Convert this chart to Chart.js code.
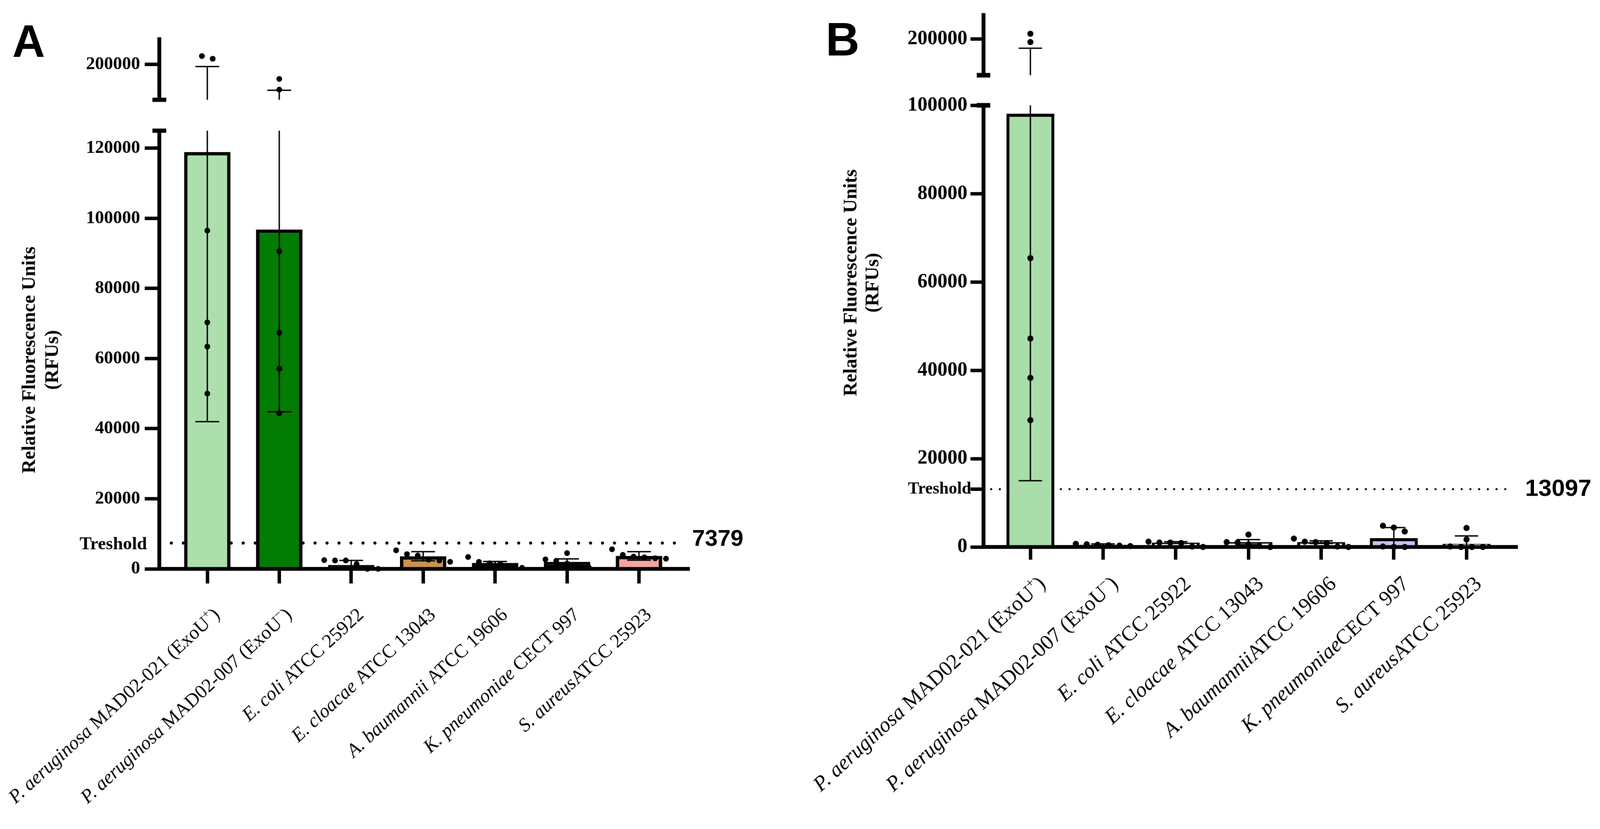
<!DOCTYPE html>
<html>
<head>
<meta charset="utf-8">
<title>Relative Fluorescence Units</title>
<script src="https://cdn.jsdelivr.net/npm/chart.js@4.4.1/dist/chart.umd.min.js"></script>
<style>
  html, body { margin: 0; padding: 0; background: #fff; overflow: hidden; }
  #stage { position: absolute; left: 0; top: 0; width: 4168px; height: 2121px; transform-origin: 0 0; background: #fff; }
  canvas { position: absolute; }
  .letter { position: absolute; font-family: "Liberation Sans", Arial, sans-serif; font-weight: bold; line-height: 1; color: #000; }
</style>
</head>
<body>
<div id="stage">
  <div class="letter" style="left:32px; top:49px; font-size:118px;">A</div>
  <div class="letter" style="left:2151px; top:41px; font-size:122px;">B</div>
  <canvas id="aHigh" width="2000" height="300" style="left:0; top:0;"></canvas>
  <canvas id="aLow" width="2000" height="1821" style="left:0; top:300px;"></canvas>
  <canvas id="bHigh" width="2068" height="235" style="left:2100px; top:0;"></canvas>
  <canvas id="bLow" width="2068" height="1886" style="left:2100px; top:235px;"></canvas>
</div>
<script>
const SERIF = '"Liberation Serif", "Times New Roman", serif';
const SANS = '"Liberation Sans", Arial, sans-serif';

// Fit the 4168x2121 layout into whatever viewport we get
const stage = document.getElementById("stage");
const fit = Math.min(window.innerWidth / 4168, window.innerHeight / 2121);
stage.style.transform = `scale(${fit})`;

// Panel A data
const labelsA = [
    "<i>P. aeruginosa</i> MAD02-021 (ExoU<sup>+</sup>)",
    "<i>P. aeruginosa</i> MAD02-007 (ExoU<sup>−</sup>)",
    "<i>E. coli</i> ATCC 25922",
    "<i>E. cloacae</i> ATCC 13043",
    "<i>A. baumannii</i> ATCC 19606",
    "<i>K. pneumoniae</i> CECT 997",
    "<i>S. aureus</i>ATCC 25923"
];
const meansA = [118900, 96800, 1100, 3600, 1700, 2000, 3700];
const sdA = [76900, 52000, 1300, 1300, 400, 850, 1200];
const pointsA = [
    [216600, 211300, 96500, 70300, 63400, 50000],
    [171300, 150200, 90600, 67400, 57100, 44400],
    [2500, 2400, 2400, 1400, 0, 0],
    [5300, 4200, 3800, 2600, 2400, 2000],
    [3400, 2000, 1600, 1400, 500, 300],
    [4500, 2700, 2300, 1500, 800, 500],
    [5600, 4000, 3500, 3300, 3000, 2900]
];
const thresholdA = 7379;
const lowTicksA = [0, 20000, 40000, 60000, 80000, 100000, 120000];
const highTicksA = [200000];
const colorsA = ["#acdfac", "#027c02", "#000000", "#c9934f", "#000000", "#000000", "#f5a3a3"];

// Panel B data
const labelsB = [
    "<i>P. aeruginosa</i> MAD02-021 (ExoU<sup>+</sup>)",
    "<i>P. aeruginosa</i> MAD02-007 (ExoU<sup>−</sup>)",
    "<i>E. coli</i> ATCC 25922",
    "<i>E. cloacae</i> ATCC 13043",
    "<i>A. baumannii</i>ATCC 19606",
    "<i>K. pneumoniae</i>CECT 997",
    "<i>S. aureus</i>ATCC 25923"
];
const meansB = [98100, 500, 1000, 1100, 1100, 2000, 700];
const sdB = [83100, 200, 200, 580, 300, 2400, 1800];
const pointsB = [
    [211100, 193800, 65400, 47200, 38300, 28700],
    [700, 600, 500, 400, 300, 200],
    [1200, 1000, 1000, 900, 100, 0],
    [2800, 1100, 1000, 600, 200, 0],
    [1900, 1200, 1100, 900, 100, 0],
    [4800, 4400, 3500, 100, 0, 0],
    [4300, 1700, 100, 0, 0, 0]
];
const thresholdB = 13097;
const lowTicksB = [0, 20000, 40000, 60000, 80000, 100000];
const highTicksB = [200000];
const colorsB = ["#a9dda9", "#ffffff", "#ffffff", "#ffffff", "#ffffff", "#c4c4f6", "#ffffff"];

const yTitle = ["Relative Fluorescence Units", "(RFUs)"];

const panelA = {
    labels: labelsA, means: meansA, sd: sdA, points: pointsA, threshold: thresholdA,
    lowTicks: lowTicksA, highTicks: highTicksA, colors: colorsA, thresholdTick: false,
    lowMax: 125000, highMin: 130000, highMax: 250000,
    xMin: -0.667, xMax: 6.68, thrSpan: [-0.5, 6.55],
    axisWidth: 415, padRight: 208,
    high: { id: "aHigh", top: 102, bottom: 39 },
    low: { id: "aLow", top: 37, xAxisHeight: 640 },
    style: {
        tickSize: 47, tickPad: 12, yTickLen: 38, xTickLen: 38, tickWidth: 9, axisLine: 10,
        barBorder: 9, barPct: 0.645, pointRadius: 7.5, jitter: 0.15,
        errWidth: 3.5, capHalf: 31, breakHalf: 18, breakThick: 11,
        dotWidth: 8, dotGap: 31.2,
        labelSize: 50, labelDx: 35, labelDy: 123,
        thrSize: 60, thrGap: 11, thrDy: -9, nameSize: 47, nameGap: 32, nameDy: 4,
        titleSize: 50, titleX: 78, titleY: 637, titleLead: 60
    }
};

const panelB = {
    labels: labelsB, means: meansB, sd: sdB, points: pointsB, threshold: thresholdB,
    lowTicks: lowTicksB, highTicks: highTicksB, colors: colorsB, thresholdTick: true,
    lowMax: 100000, highMin: 125000, highMax: 250000,
    xMin: -0.645, xMax: 6.68, thrSpan: [-0.54, 6.61],
    axisWidth: 462, padRight: 219,
    high: { id: "bHigh", top: 37, bottom: 18 },
    low: { id: "bLow", top: 38, xAxisHeight: 697 },
    style: {
        tickSize: 52, tickPad: 8, yTickLen: 34, xTickLen: 33, tickWidth: 9, axisLine: 10,
        barBorder: 8, barPct: 0.66, pointRadius: 8, jitter: 0.15,
        errWidth: 3.5, capHalf: 30.5, breakHalf: 17.5, breakThick: 12,
        dotWidth: 5.5, dotGap: 22.7,
        labelSize: 55, labelDx: 42, labelDy: 100,
        thrSize: 62, thrGap: 24, thrDy: 0, nameSize: 44, nameGap: 32, nameDy: 0,
        titleSize: 50, titleX: 118, titleY: 501, titleLead: 57
    }
};

const LABEL_ANGLE = -42.5 * Math.PI / 180;

// Spread dots sideways when they would overlap (values close in pixels)
function spreadPoints(groups, minV, maxV, pxPerUnit, minPx, step) {
    const out = [];
    groups.forEach((vals, i) => {
        const inRange = vals.filter(v => v >= minV && v <= maxV).sort((a, b) => b - a);
        let cluster = [];
        const flush = () => {
            cluster.forEach((v, k) => out.push({ x: i + (k - (cluster.length - 1) / 2) * step, y: v }));
            cluster = [];
        };
        inRange.forEach(v => {
            if (cluster.length && (cluster[cluster.length - 1] - v) * pxPerUnit > minPx) flush();
            cluster.push(v);
        });
        flush();
    });
    return out;
}

function parseLabel(str) {
    return str.split(/(<i>.*?<\/i>|<sup>.*?<\/sup>)/).filter(Boolean).map(part => {
        if (part.startsWith("<i>")) return { text: part.slice(3, -4), kind: "italic" };
        if (part.startsWith("<sup>")) return { text: part.slice(5, -6), kind: "sup" };
        return { text: part, kind: "normal" };
    });
}

// Error bars (mean +/- SD), drawn right before the dots
function errorBars(p) {
    return {
        id: "errorBars",
        beforeDatasetDraw(chart, args) {
            if (args.meta.type !== "scatter") return;
            const { ctx, scales: { x, y } } = chart;
            const st = p.style;
            ctx.save();
            ctx.strokeStyle = "#000";
            ctx.lineWidth = st.errWidth;
            p.means.forEach((m, i) => {
                const hi = m + p.sd[i];
                const lo = m - p.sd[i];
                const from = Math.max(lo, y.min, 0);
                const to = Math.min(hi, y.max);
                if (to <= from) return;
                const px = x.getPixelForValue(i);
                ctx.beginPath();
                ctx.moveTo(px, y.getPixelForValue(from));
                ctx.lineTo(px, y.getPixelForValue(to));
                [hi, lo].forEach(v => {
                    if (v > 0 && v >= y.min && v <= y.max) {
                        const py = y.getPixelForValue(v);
                        ctx.moveTo(px - st.capHalf, py);
                        ctx.lineTo(px + st.capHalf, py);
                    }
                });
                ctx.stroke();
            });
            ctx.restore();
        }
    };
}

// Short bar across the axis where it is broken
function axisBreak(p, edge) {
    return {
        id: "axisBreak",
        afterDraw(chart) {
            const { ctx, chartArea } = chart;
            const st = p.style;
            const yPix = edge === "top" ? chartArea.top : chartArea.bottom;
            ctx.save();
            ctx.fillStyle = "#000";
            ctx.fillRect(chartArea.left - st.breakHalf, yPix - st.breakThick / 2, st.breakHalf * 2, st.breakThick);
            ctx.restore();
        }
    };
}

// "Treshold" on the left, its value on the right
function thresholdText(p) {
    return {
        id: "thresholdText",
        afterDraw(chart) {
            const { ctx, chartArea, scales: { y } } = chart;
            const st = p.style;
            const py = y.getPixelForValue(p.threshold);
            ctx.save();
            ctx.fillStyle = "#000";
            ctx.textBaseline = "middle";
            ctx.textAlign = "left";
            ctx.font = `bold ${st.thrSize}px ${SANS}`;
            ctx.fillText(String(p.threshold), chartArea.right + st.thrGap, py + st.thrDy);
            ctx.textAlign = "right";
            ctx.font = `bold ${st.nameSize}px ${SERIF}`;
            ctx.fillText("Treshold", chartArea.left - st.nameGap, py + st.nameDy);
            ctx.restore();
        }
    };
}

// Slanted category names with italic species and superscripts
function richLabels(p) {
    return {
        id: "richLabels",
        afterDraw(chart) {
            const { ctx, chartArea, scales: { x } } = chart;
            const st = p.style;
            const size = st.labelSize;
            const fontOf = part => part.kind === "italic" ? `italic ${size}px ${SERIF}`
                : part.kind === "sup" ? `${Math.round(size * 0.62)}px ${SERIF}`
                : `${size}px ${SERIF}`;
            p.labels.forEach((label, i) => {
                const parts = parseLabel(label);
                ctx.save();
                ctx.fillStyle = "#000";
                ctx.textBaseline = "alphabetic";
                ctx.textAlign = "left";
                ctx.translate(x.getPixelForValue(i) + st.labelDx, chartArea.bottom + st.labelDy);
                ctx.rotate(LABEL_ANGLE);
                let total = 0;
                parts.forEach(part => {
                    ctx.font = fontOf(part);
                    part.w = ctx.measureText(part.text).width;
                    total += part.w;
                });
                let cx = -total;
                parts.forEach(part => {
                    ctx.font = fontOf(part);
                    ctx.fillText(part.text, cx, part.kind === "sup" ? -size * 0.42 : 0);
                    cx += part.w;
                });
                ctx.restore();
            });
        }
    };
}

function axisTitle(p) {
    return {
        id: "axisTitle",
        afterDraw(chart) {
            const { ctx } = chart;
            const st = p.style;
            ctx.save();
            ctx.fillStyle = "#000";
            ctx.font = `bold ${st.titleSize}px ${SERIF}`;
            ctx.textAlign = "center";
            ctx.textBaseline = "middle";
            ctx.translate(st.titleX, st.titleY);
            ctx.rotate(-Math.PI / 2);
            yTitle.forEach((line, k) => ctx.fillText(line, 0, k * st.titleLead));
            ctx.restore();
        }
    };
}

function makeChart(p, segName) {
    const lower = segName === "low";
    const seg = p[segName];
    const st = p.style;
    const canvas = document.getElementById(seg.id);
    const yMin = lower ? 0 : p.highMin;
    const yMax = lower ? p.lowMax : p.highMax;
    const tickValues = lower ? p.lowTicks : p.highTicks;
    const withThrTick = lower && p.thresholdTick;
    const areaHeight = canvas.height - seg.top - (lower ? seg.xAxisHeight : seg.bottom);
    const pxPerUnit = areaHeight / (yMax - yMin);

    const datasets = [{
        type: "scatter",
        data: spreadPoints(p.points, yMin, yMax, pxPerUnit, st.pointRadius * 2, st.jitter),
        pointRadius: st.pointRadius,
        pointHoverRadius: st.pointRadius,
        pointBackgroundColor: "#000",
        pointBorderWidth: 0,
        borderColor: "#000",
        clip: 20,
        order: 0
    }];
    if (lower) {
        datasets.push({
            type: "bar",
            data: p.means.map((m, i) => ({ x: i, y: m })),
            backgroundColor: p.colors,
            borderColor: "#000",
            borderWidth: st.barBorder,
            barPercentage: st.barPct,
            categoryPercentage: 1,
            order: 1
        });
        datasets.push({
            type: "line",
            data: p.thrSpan.map(x => ({ x: x, y: p.threshold })),
            borderColor: "#000",
            borderWidth: st.dotWidth,
            borderDash: [0, st.dotGap],
            borderCapStyle: "round",
            pointRadius: 0,
            fill: false,
            order: 2
        });
    }

    const plugins = [errorBars(p), axisBreak(p, lower ? "top" : "bottom")];
    if (lower) plugins.push(thresholdText(p), richLabels(p), axisTitle(p));

    return new Chart(canvas, {
        type: "bar",
        data: { datasets },
        plugins,
        options: {
            responsive: false,
            maintainAspectRatio: false,
            animation: false,
            events: [],
            layout: { padding: { left: 0, right: p.padRight, top: seg.top, bottom: lower ? 0 : seg.bottom } },
            plugins: { legend: { display: false }, tooltip: { enabled: false } },
            scales: {
                x: {
                    type: "linear",
                    display: lower,
                    min: p.xMin,
                    max: p.xMax,
                    offset: false,
                    afterFit: s => { if (lower) s.height = seg.xAxisHeight; },
                    ticks: { display: false, stepSize: 1, includeBounds: false },
                    grid: {
                        offset: false, drawOnChartArea: false, drawTicks: true,
                        tickLength: st.xTickLen, tickWidth: st.tickWidth, tickColor: "#000",
                        color: "#000", lineWidth: st.tickWidth
                    },
                    border: { display: true, color: "#000", width: st.axisLine }
                },
                y: {
                    type: "linear",
                    min: yMin,
                    max: yMax,
                    afterFit: s => { s.width = p.axisWidth; },
                    afterBuildTicks: s => {
                        const vals = withThrTick ? tickValues.concat([p.threshold]).sort((a, b) => a - b) : tickValues;
                        s.ticks = vals.map(v => ({ value: v }));
                    },
                    ticks: {
                        callback: v => (v === p.threshold ? "" : String(v)),
                        color: "#000",
                        padding: st.tickPad,
                        autoSkip: false,
                        font: { family: SERIF, size: st.tickSize, weight: "bold" }
                    },
                    grid: {
                        drawOnChartArea: false, drawTicks: true,
                        tickLength: st.yTickLen, tickWidth: st.tickWidth, tickColor: "#000",
                        color: "#000", lineWidth: st.tickWidth
                    },
                    border: { display: true, color: "#000", width: st.axisLine }
                }
            }
        }
    });
}

makeChart(panelA, "high");
makeChart(panelA, "low");
makeChart(panelB, "high");
makeChart(panelB, "low");
</script>
</body>
</html>
